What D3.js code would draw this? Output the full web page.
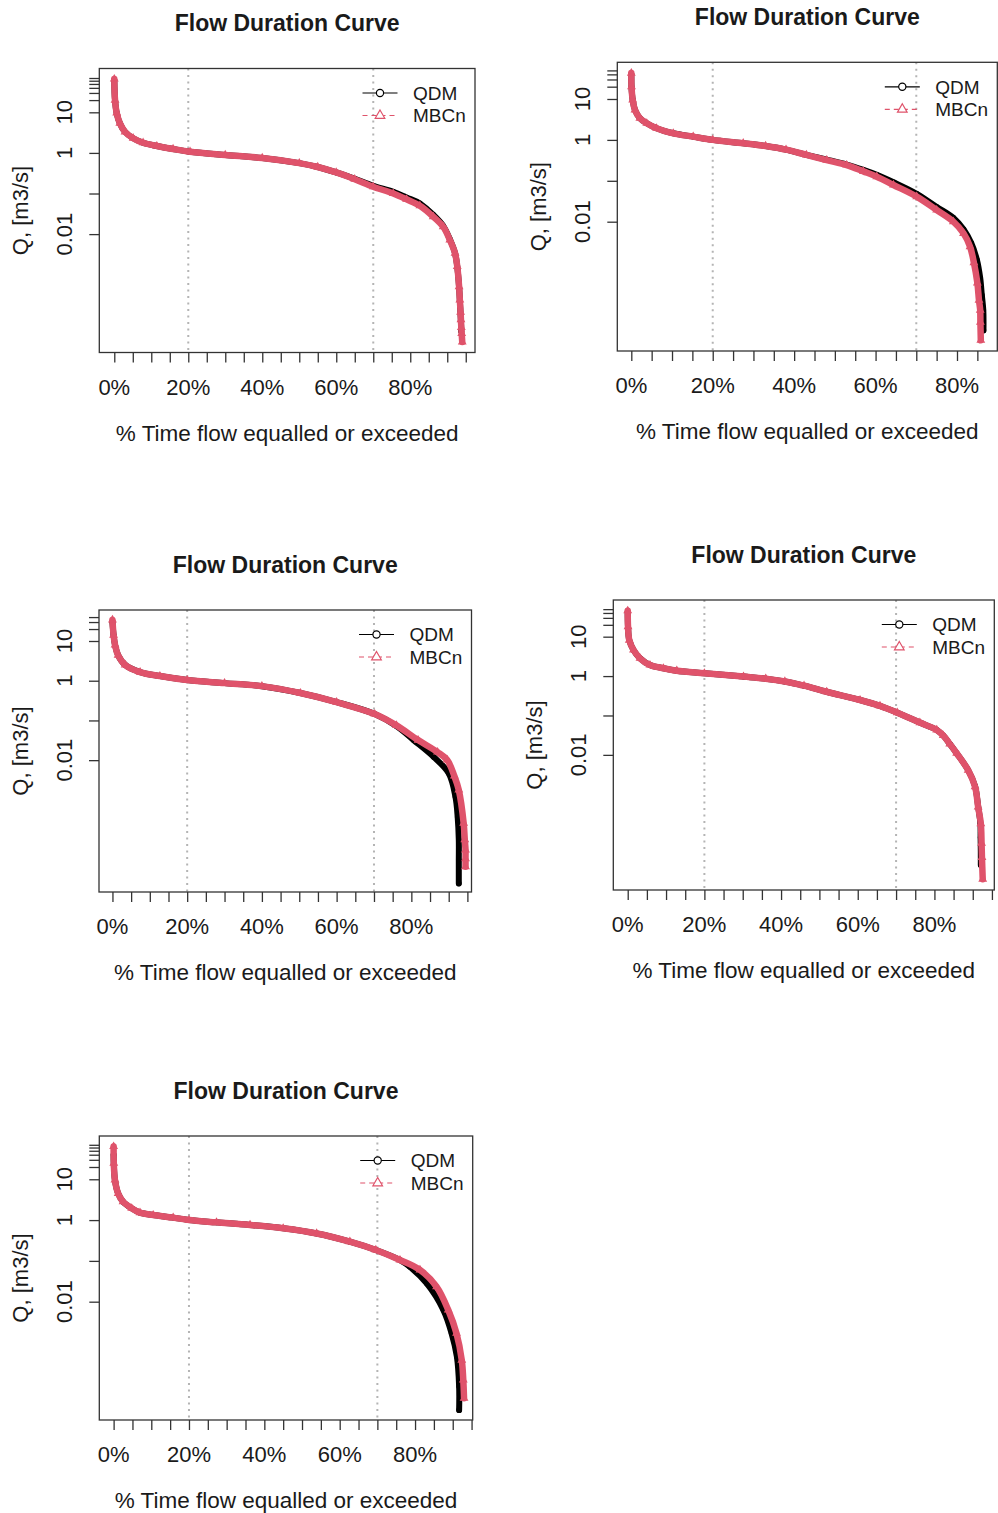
<!DOCTYPE html>
<html>
<head>
<meta charset="utf-8">
<script src="https://cdn.jsdelivr.net/npm/d3@7"></script>
<style>
  body { margin: 0; background: #fff; }
  svg { display: block; }
  text { font-family: "Liberation Sans", Arial, Helvetica, sans-serif; fill: #1a1a1a; }
</style>
</head>
<body>
<svg id="chart" width="998" height="1513"></svg>
<script>
// ---- labels --------------------------------------------------------------
const titleText = "Flow Duration Curve";
const xTitle = "% Time flow equalled or exceeded";
const yTitle = "Q, [m3/s]";
const seriesNames = ["QDM", "MBCn"];

// x axis: minor ticks every 5 %, labels every 20 %
const xMinorTicks = d3.range(0, 20).map(i => i * 0.05);
const xLabelAt = [0, 0.2, 0.4, 0.6, 0.8];
const xTickLabels = ["0%", "20%", "40%", "60%", "80%"];
// reference exceedance levels (dotted verticals)
const refLines = [0.2, 0.7];

// y axis: fixed decade ticks plus the linear "pretty" ticks of each panel
const yDecadeTicks = [0.01, 0.1, 1];
const yLabelled = [0.01, 1, 10];
const upperTicks1 = [10, 20, 30, 40, 50, 60, 70];
const upperTicks2 = [10, 20, 30, 40, 50];
const upperTicks3 = [10, 20, 30, 40];
const upperTicks4 = [10, 20, 30, 40, 50];
const upperTicks5 = [10, 20, 30, 40, 50, 60, 70];

// ---- flow duration curves: [exceedance fraction, Q m3/s] ------------------
const mbcn1 = [[0,66],[0.002,20],[0.0065,9.6],[0.015,5.4],[0.029,3.3],[0.051,2.3],[0.078,1.78],[0.115,1.48],[0.159,1.25],[0.205,1.07],[0.30,0.89],[0.40,0.75],[0.50,0.56],[0.55,0.45],[0.60,0.33],[0.65,0.225],[0.70,0.147],[0.754,0.10],[0.79,0.072],[0.826,0.050],[0.862,0.027],[0.889,0.0152],[0.907,0.0072],[0.921,0.0034],[0.927,0.0016],[0.932,5.1e-4],[0.934,2.4e-4],[0.936,1.2e-4],[0.937,7.8e-5],[0.938,5.0e-5],[0.939,3.6e-5],[0.9405,2.2e-5]];
const qdm1 = [[0,62],[0.002,20],[0.0065,9.6],[0.015,5.4],[0.029,3.3],[0.051,2.3],[0.078,1.78],[0.115,1.48],[0.159,1.25],[0.205,1.07],[0.30,0.89],[0.40,0.75],[0.50,0.56],[0.55,0.45],[0.60,0.33],[0.65,0.23],[0.70,0.155],[0.754,0.11],[0.79,0.080],[0.826,0.057],[0.862,0.030],[0.889,0.016],[0.907,0.0075],[0.921,0.0034],[0.927,0.0016],[0.932,5.0e-4],[0.935,1.6e-4],[0.937,7e-5],[0.938,4e-5]];

const mbcn2 = [[0,43],[0.0005,20],[0.0034,9.5],[0.009,5.4],[0.021,3.4],[0.038,2.55],[0.062,1.92],[0.103,1.45],[0.152,1.2],[0.2,1.0],[0.275,0.83],[0.33,0.71],[0.38,0.58],[0.43,0.43],[0.48,0.32],[0.529,0.243],[0.57,0.17],[0.603,0.126],[0.644,0.079],[0.701,0.041],[0.75,0.0193],[0.791,0.010],[0.816,0.0052],[0.832,0.00245],[0.8415,0.001],[0.850,3.2e-4],[0.854,1.2e-4],[0.857,6.9e-5],[0.8575,3.5e-5],[0.8585,1.26e-5]];
const qdm2 = [[0,40],[0.0005,20],[0.0034,9.5],[0.009,5.4],[0.021,3.4],[0.038,2.55],[0.062,1.92],[0.103,1.45],[0.152,1.2],[0.2,1.0],[0.275,0.83],[0.33,0.71],[0.38,0.58],[0.43,0.43],[0.48,0.33],[0.529,0.25],[0.57,0.185],[0.603,0.14],[0.644,0.092],[0.701,0.048],[0.75,0.023],[0.791,0.0125],[0.816,0.0065],[0.835,0.003],[0.849,0.00116],[0.857,4.2e-4],[0.861,1.6e-4],[0.8646,6.9e-5],[0.865,2.2e-5]];

const mbcn3 = [[0,34],[0.003,14],[0.007,7.9],[0.015,4.4],[0.034,2.5],[0.074,1.65],[0.127,1.31],[0.2,1.04],[0.3,0.87],[0.4,0.73],[0.503,0.49],[0.6,0.29],[0.702,0.145],[0.76,0.075],[0.818,0.032],[0.87,0.016],[0.896,0.0101],[0.915,0.004],[0.927,0.00177],[0.94,2.6e-4],[0.943,1.0e-4],[0.945,5.5e-5],[0.945,3.3e-5],[0.945,2.07e-5]];
const qdm3 = [[0,30],[0.003,14],[0.007,7.9],[0.015,4.4],[0.034,2.5],[0.074,1.65],[0.127,1.31],[0.2,1.04],[0.3,0.87],[0.4,0.73],[0.503,0.49],[0.6,0.29],[0.702,0.145],[0.76,0.072],[0.806,0.032],[0.86,0.012],[0.9,0.0047],[0.918,0.0012],[0.924,3.7e-4],[0.927,9.8e-5],[0.927,3.0e-5],[0.927,7.9e-6]];

const mbcn4 = [[0,45.5],[0.0008,18],[0.004,8.2],[0.015,4.6],[0.032,2.83],[0.058,1.91],[0.093,1.58],[0.128,1.37],[0.2,1.18],[0.302,0.97],[0.36,0.86],[0.41,0.73],[0.46,0.57],[0.519,0.40],[0.606,0.247],[0.658,0.175],[0.703,0.118],[0.762,0.066],[0.806,0.043],[0.823,0.031],[0.84,0.019],[0.858,0.011],[0.888,0.0041],[0.906,0.00156],[0.914,4.8e-4],[0.921,1.8e-4],[0.923,5.7e-5],[0.924,2.5e-5],[0.926,7e-6]];
const qdm4 = [[0,42],[0.0008,18],[0.004,8.2],[0.015,4.6],[0.032,2.83],[0.058,1.91],[0.093,1.58],[0.128,1.37],[0.2,1.18],[0.302,0.97],[0.36,0.86],[0.41,0.73],[0.46,0.57],[0.519,0.40],[0.606,0.247],[0.658,0.175],[0.703,0.118],[0.762,0.066],[0.806,0.043],[0.823,0.031],[0.84,0.019],[0.858,0.011],[0.888,0.0041],[0.906,0.0016],[0.914,5e-4],[0.92,1.8e-4],[0.9205,8e-5],[0.921,3.5e-5],[0.921,1.6e-5]];

const mbcn5 = [[0,63.5],[0.0005,24.7],[0.0035,9.6],[0.012,4.5],[0.025,2.83],[0.048,1.95],[0.07,1.52],[0.105,1.33],[0.158,1.15],[0.2,1.0],[0.273,0.88],[0.362,0.76],[0.45,0.63],[0.539,0.47],[0.627,0.296],[0.696,0.185],[0.76,0.105],[0.813,0.060],[0.857,0.0233],[0.888,0.0063],[0.91,0.00168],[0.924,3.7e-4],[0.928,1.2e-4],[0.93,4.3e-5]];
const qdm5 = [[0,40],[0.0005,24.7],[0.0035,9.6],[0.012,4.5],[0.025,2.83],[0.048,1.95],[0.07,1.52],[0.105,1.33],[0.158,1.15],[0.2,1.0],[0.273,0.88],[0.362,0.76],[0.45,0.63],[0.539,0.47],[0.627,0.296],[0.696,0.185],[0.76,0.105],[0.786,0.072],[0.831,0.028],[0.875,0.0063],[0.897,0.00168],[0.911,4.5e-4],[0.917,8.3e-5],[0.917,2.2e-5]];

// ---- panel layout (plot box in px, axis limits) ---------------------------
const panels = [
  { qdm: qdm1, mbcn: mbcn1, upper: upperTicks1, box: [99.3, 68.5, 475, 352.5], xlim: [-0.0405, 0.975], ylim: [1.213e-5, 120] },
  { qdm: qdm2, mbcn: mbcn2, upper: upperTicks2, box: [617.3, 62.3, 997.3, 351], xlim: [-0.0344, 0.899], ylim: [6.9e-6, 78.9] },
  { qdm: qdm3, mbcn: mbcn3, upper: upperTicks3, box: [99, 610, 471.5, 892], xlim: [-0.036, 0.961], ylim: [4.8e-6, 60.3] },
  { qdm: qdm4, mbcn: mbcn4, upper: upperTicks4, box: [613.3, 600, 994.3, 890], xlim: [-0.0376, 0.9562], ylim: [3.72e-6, 85.3] },
  { qdm: qdm5, mbcn: mbcn5, upper: upperTicks5, box: [99.3, 1136, 472.7, 1420], xlim: [-0.038, 0.953], ylim: [1.26e-5, 115] }
];

const colQDM = "#000000";
const colMBCn = "#DF536B";

const svg = d3.select("#chart");
svg.append("rect").attr("width", 998).attr("height", 1513).attr("fill", "#fff");

function drawPanel(P) {
  const [x0, y0, x1, y1] = P.box;
  const x = d3.scaleLinear().domain(P.xlim).range([x0, x1]);
  const y = d3.scaleLog().domain(P.ylim).range([y1, y0]);
  const g = svg.append("g");

  // dotted reference verticals
  g.selectAll(".ref").data(refLines).join("line")
    .attr("x1", d => x(d)).attr("x2", d => x(d))
    .attr("y1", y0).attr("y2", y1)
    .attr("stroke", "#b4b4b4").attr("stroke-width", 2)
    .attr("stroke-dasharray", "2,4.5");

  const line = d3.line().x(d => x(d[0])).y(d => y(d[1])).curve(d3.curveCatmullRom.alpha(0.5));
  const tri = d3.symbol().type(d3.symbolTriangle).size(18);

  // QDM: dense open circles read as a thick band
  g.append("path").attr("d", line(P.qdm)).attr("fill", "none")
    .attr("stroke", colQDM).attr("stroke-width", 6).attr("stroke-linejoin", "round").attr("stroke-linecap", "round");
  g.append("path").attr("d", line(P.qdm)).attr("fill", "none")
    .attr("stroke", colQDM).attr("stroke-width", 1);
  g.selectAll(".qpt").data(P.qdm).join("circle")
    .attr("cx", d => x(d[0])).attr("cy", d => y(d[1])).attr("r", 2.2)
    .attr("fill", "none").attr("stroke", colQDM).attr("stroke-width", 1.2);

  // MBCn: dashed line with open triangles
  g.append("path").attr("d", line(P.mbcn)).attr("fill", "none")
    .attr("stroke", colMBCn).attr("stroke-width", 6.5).attr("stroke-linejoin", "round").attr("stroke-linecap", "round");
  g.append("path").attr("d", line(P.mbcn)).attr("fill", "none")
    .attr("stroke", colMBCn).attr("stroke-width", 1).attr("stroke-dasharray", "4,3");
  g.selectAll(".mpt").data(P.mbcn).join("path")
    .attr("d", tri).attr("transform", d => `translate(${x(d[0])},${y(d[1])})`)
    .attr("fill", "none").attr("stroke", colMBCn).attr("stroke-width", 1.4);

  // plot box
  g.append("rect").attr("x", x0).attr("y", y0).attr("width", x1 - x0).attr("height", y1 - y0)
    .attr("fill", "none").attr("stroke", "#333").attr("stroke-width", 1.3);

  // x axis ticks
  const xt = xMinorTicks.filter(t => t >= P.xlim[0] && t <= P.xlim[1]);
  const xa = g.append("g").attr("transform", `translate(0,${y1})`)
    .call(d3.axisBottom(x).tickValues(xt).tickSize(10).tickFormat(""));
  xa.select(".domain").remove();
  xa.selectAll(".tick line").attr("stroke", "#333").attr("stroke-width", 1.3);
  g.selectAll(".xl").data(xLabelAt).join("text")
    .attr("x", d => x(d)).attr("y", y1 + 42)
    .attr("text-anchor", "middle").attr("font-size", 22)
    .text((d, i) => xTickLabels[i]);

  // y axis ticks
  const ylo = P.ylim[0], yhi = P.ylim[1];
  const yt = yDecadeTicks.concat(P.upper).filter(t => t >= ylo && t <= yhi);
  const ya = g.append("g").attr("transform", `translate(${x0},0)`)
    .call(d3.axisLeft(y).tickValues(yt).tickSize(10).tickFormat(""));
  ya.select(".domain").remove();
  ya.selectAll(".tick line").attr("stroke", "#333").attr("stroke-width", 1.3);
  g.selectAll(".yl").data(yLabelled).join("text")
    .attr("transform", d => `translate(${x0 - 27},${y(d)}) rotate(-90)`)
    .attr("text-anchor", "middle").attr("font-size", 22)
    .text(d => String(d));

  // titles
  const cx = (x0 + x1) / 2, cy = (y0 + y1) / 2;
  g.append("text").attr("x", cx).attr("y", y0 - 37.5)
    .attr("text-anchor", "middle").attr("font-size", 23).attr("font-weight", "bold")
    .text(titleText);
  g.append("text").attr("x", cx).attr("y", y1 + 88)
    .attr("text-anchor", "middle").attr("font-size", 22.5)
    .text(xTitle);
  g.append("text").attr("transform", `translate(${x0 - 71},${cy}) rotate(-90)`)
    .attr("text-anchor", "middle").attr("font-size", 22)
    .text(yTitle);

  // legend (top right, no frame)
  const lx0 = x1 - 112.5, lx1 = x1 - 77.5, lc = (lx0 + lx1) / 2, tx = x1 - 62;
  const rows = [y0 + 24.5, y0 + 47];
  g.append("line").attr("x1", lx0).attr("x2", lx1).attr("y1", rows[0]).attr("y2", rows[0])
    .attr("stroke", colQDM).attr("stroke-width", 1.2);
  g.append("circle").attr("cx", lc).attr("cy", rows[0]).attr("r", 3.6)
    .attr("fill", "#fff").attr("stroke", colQDM).attr("stroke-width", 1.2);
  g.append("line").attr("x1", lx0).attr("x2", lx1).attr("y1", rows[1]).attr("y2", rows[1])
    .attr("stroke", colMBCn).attr("stroke-width", 1.2).attr("stroke-dasharray", "5,4");
  g.append("path").attr("d", d3.symbol().type(d3.symbolTriangle).size(40))
    .attr("transform", `translate(${lc},${rows[1]})`)
    .attr("fill", "#fff").attr("stroke", colMBCn).attr("stroke-width", 1.2);
  g.selectAll(".lg").data(seriesNames).join("text")
    .attr("x", tx).attr("y", (d, i) => rows[i] + 6.8)
    .attr("font-size", 19).text(d => d);
}

panels.forEach(drawPanel);
</script>
</body>
</html>
